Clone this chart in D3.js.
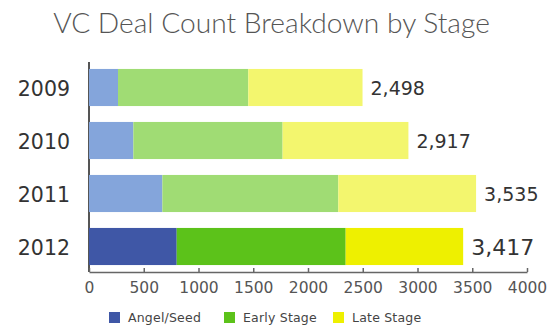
<!DOCTYPE html>
<html>
<head>
<meta charset="utf-8">
<script src="https://cdn.jsdelivr.net/npm/d3@7/dist/d3.min.js"></script>
<style>
  html, body { margin: 0; padding: 0; background: #fff; }
  svg { display: block; }
</style>
</head>
<body>
<svg id="chart" width="547" height="333"></svg>
<script>
// Deal counts per year, split by stage
const years = ["2009", "2010", "2011", "2012"];
const angelSeed = [265, 405, 670, 801];
const earlyStage = [1190, 1363, 1607, 1543];
const lateStage = [1043, 1149, 1258, 1073];
const totals = [2498, 2917, 3535, 3417];
const stages = ["Angel/Seed", "Early Stage", "Late Stage"];
const xTicks = [0, 500, 1000, 1500, 2000, 2500, 3000, 3500, 4000];

// Latest year in full colour, earlier years in softer tints
const strongColors = ["#3f57a6", "#5cc21a", "#eef000"];
const softColors = ["#84a5db", "#a0dc74", "#f3f66e"];

const svg = d3.select("#chart");
const W = 547;

const x = d3.scaleLinear().domain([0, 4000]).range([89, 527]);
const y = d3.scaleBand().domain(years).range([61, 273])
  .paddingInner(0.3).paddingOuter(0.15);

// Title
const title = svg.append("text")
  .attr("x", 271.5).attr("y", 33)
  .attr("text-anchor", "middle")
  .style("font-family", "Lato, 'Open Sans', sans-serif")
  .style("font-weight", 300)
  .style("font-size", "26px")
  .attr("fill", "#555")
  .text("VC Deal Count Breakdown by Stage");
const tw = title.node().getComputedTextLength();
title.style("font-size", (26 * 437 / tw) + "px");

// Stack the three stages
const rows = years.map((yr, i) => ({
  year: yr, i,
  "Angel/Seed": angelSeed[i],
  "Early Stage": earlyStage[i],
  "Late Stage": lateStage[i]
}));
const series = d3.stack().keys(stages)(rows);
const latest = years[years.length - 1];

// Vertical baseline of the category axis
svg.append("line")
  .attr("x1", x(0)).attr("x2", x(0))
  .attr("y1", 62).attr("y2", 272)
  .attr("stroke", "#555").attr("stroke-width", 2);

series.forEach((s, si) => {
  svg.append("g").selectAll("rect")
    .data(s)
    .join("rect")
    .attr("x", d => x(d[0]))
    .attr("y", d => y(d.data.year))
    .attr("width", d => x(d[1]) - x(d[0]))
    .attr("height", y.bandwidth())
    .attr("fill", d => d.data.year === latest ? strongColors[si] : softColors[si]);
});

// Bottom value axis with ticks pointing up
const xAxis = svg.append("g")
  .attr("transform", "translate(0,272)")
  .call(d3.axisBottom(x).tickValues(xTicks).tickSizeInner(-4).tickSizeOuter(0).tickPadding(10).tickFormat(d3.format("d")));
xAxis.select(".domain").attr("stroke", "#666").attr("stroke-width", 1.5);
xAxis.selectAll(".tick line").attr("stroke", "#666").attr("stroke-width", 1.5);
xAxis.selectAll(".tick text")
  .style("font-family", "'DejaVu Sans', sans-serif")
  .style("font-size", "15.5px")
  .attr("fill", "#555");

// Year labels
svg.append("g").selectAll("text")
  .data(years)
  .join("text")
  .attr("x", 70)
  .attr("y", d => y(d) + y.bandwidth() / 2 + 8)
  .attr("text-anchor", "end")
  .style("font-family", "'DejaVu Sans', sans-serif")
  .style("font-size", "20.5px")
  .attr("fill", "#333")
  .text(d => d);

// Totals at bar ends
svg.append("g").selectAll("text")
  .data(years)
  .join("text")
  .attr("x", (d, i) => x(totals[i]) + 8)
  .attr("y", d => y(d) + y.bandwidth() / 2 + (d === latest ? 8 : 7))
  .style("font-family", "'DejaVu Sans', sans-serif")
  .style("font-size", d => d === latest ? "22px" : "19px")
  .attr("fill", "#333")
  .text((d, i) => d3.format(",")(totals[i]));

// Legend
const legendX = [109, 224, 333];
const legend = svg.append("g").selectAll("g")
  .data(stages)
  .join("g")
  .attr("transform", (d, i) => `translate(${legendX[i]},312)`);
legend.append("rect")
  .attr("width", 11).attr("height", 11)
  .attr("fill", (d, i) => strongColors[i]);
legend.append("text")
  .attr("x", 19).attr("y", 10)
  .style("font-family", "'DejaVu Sans', sans-serif")
  .style("font-size", "12.5px")
  .style("letter-spacing", "0.2px")
  .attr("fill", "#444")
  .text(d => d);
</script>
</body>
</html>
